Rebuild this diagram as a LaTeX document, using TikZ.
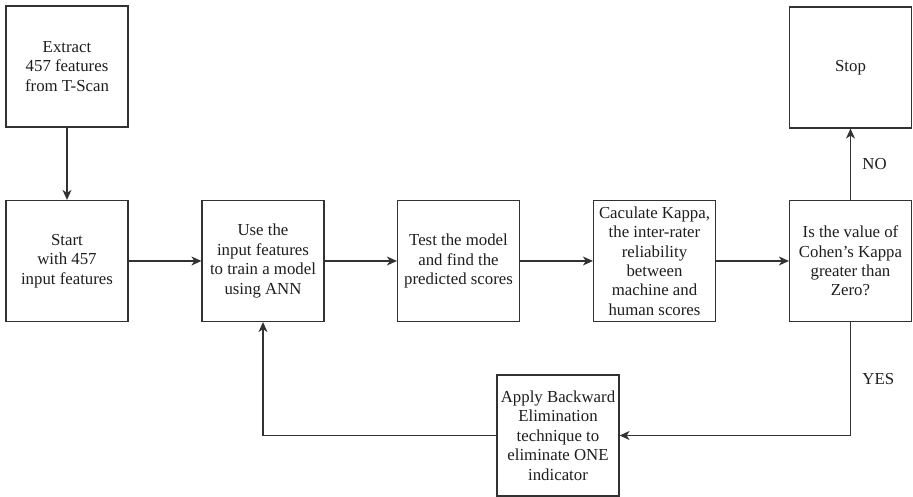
\documentclass[tikz,border=0pt]{standalone}
\usepackage{fontspec}
\setmainfont{Liberation Serif}
\usepackage{xcolor}
\usetikzlibrary{positioning,arrows.meta,calc}
\definecolor{ink}{RGB}{30,30,30}
\definecolor{frame}{RGB}{50,50,50}
\tikzset{
  box/.style={draw=frame, fill=white, align=center, inner sep=2pt,
    minimum width=122pt, minimum height=121pt, font=\fontsize{16.8}{19.4}\selectfont,
    text=ink, line width=1.2pt},
  flow/.style={-{Stealth[length=10pt, width=9pt, inset=3pt]}, line width=1.2pt, draw=frame},
  lbl/.style={font=\fontsize{16.8}{19.4}\selectfont, text=ink},
}
\begin{document}
\begin{tikzpicture}[x=1pt,y=1pt]
  \useasboundingbox (0,0) rectangle (913,497);
  % top left and the main row
  \node[box] (extract) at (67,430.5) {Extract\\457 features\\from T-Scan};
  \node[box] (start) at (67,236) {Start\\with 457\\input features};
  \node[box] (train) at (263,236) {Use the\\input features\\to train a model\\using ANN};
  \node[box] (test) at (458.5,236) {Test the model\\and find the\\predicted scores};
  \node[box] (kappa) at (654.5,236) {Caculate Kappa,\\the inter-rater\\reliability\\between\\machine and\\human scores};
  \node[box] (check) at (850.5,236) {Is the value of\\Cohen's Kappa\\greater than\\Zero?};
  \node[box] (stop) at (850.5,429.5) {Stop};
  \node[box] (elim) at (558,61.5) {Apply Backward\\Elimination\\technique to\\eliminate ONE\\indicator};
  \draw[flow] (extract) -- (start);
  \draw[flow] (start) -- (train);
  \draw[flow] (train) -- (test);
  \draw[flow] (test) -- (kappa);
  \draw[flow] (kappa) -- (check);
  \draw[flow] (check) -- node[lbl, right=8pt] {NO} (stop);
  % feedback loop
  \draw[flow] (check.south) |- node[lbl, pos=0.25, right=8pt] {YES} (elim.east);
  \draw[flow] (elim.west) -| (train.south);
\end{tikzpicture}
\end{document}
